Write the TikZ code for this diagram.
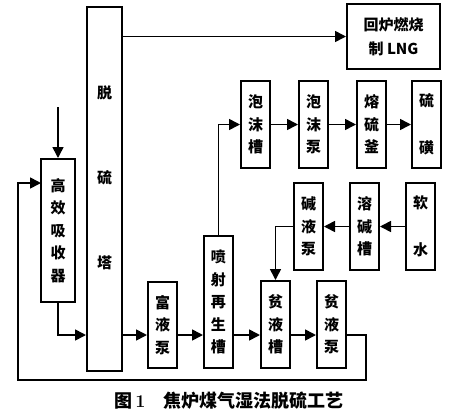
\documentclass[tikz,border=0pt]{standalone}
\usepackage{fontspec}
\newfontfamily\cjk{Noto Sans CJK SC}
\usetikzlibrary{positioning,arrows.meta}

\tikzset{
  box/.style={draw, line width=2pt, minimum width=29pt, minimum height=87pt,
    inner sep=0pt, align=center, font=\cjk\bfseries\fontsize{15}{22.5}\selectfont},
  box2/.style={box, font=\cjk\bfseries\fontsize{15}{47}\selectfont},
  flow/.style={line width=1.6pt, -{Triangle[length=11pt,width=11pt]}},
}

\begin{document}
\begin{tikzpicture}[x=1pt,y=-1pt]
    \useasboundingbox (0,0) rectangle (451,416);
    % desulfurisation tower
    \node[box, minimum width=35pt, minimum height=364pt] (ta) at (104.5,189) {};
    \node[font=\cjk\bfseries\fontsize{15}{85}\selectfont, align=center] (tatxt) at ([yshift=11pt]ta.center) {脱\\硫\\塔};
    % absorber and its gas inlet
    \node[box, minimum width=34pt, minimum height=143pt] (gx) at (58,230.5) {高\\效\\吸\\收\\器};
    \coordinate (gin) at (58,107);
    \coordinate (gxin) at (41,183);
    % clean gas out
    \node[box, minimum width=93pt, minimum height=65pt,
          font=\cjk\bfseries\fontsize{15}{24}\selectfont] (hl) at (393.5,36.5) {回炉燃烧\\制 LNG};
    % liquid level of the bottom row
    \coordinate (lvl) at (0,335);
    \node[box, minimum height=132pt, anchor=south] (ps) at (218.5,369) {喷\\射\\再\\生\\槽};
    \node[box, minimum height=86pt, anchor=south east] (fyb) at ([xshift=-25pt]ps.south west) {富\\液\\泵};
    \node[box, anchor=south west] (pyc) at ([xshift=26pt]ps.south east) {贫\\液\\槽};
    \node[box, right=25pt of pyc] (pyb) {贫\\液\\泵};
    % foam / sulfur row
    \node[box] (pmc) at (255.5,124.5) {泡\\沫\\槽};
    \node[box, right=27pt of pmc] (pmb) {泡\\沫\\泵};
    \node[box, right=27pt of pmb] (rlf) {熔\\硫\\釜};
    \node[box2, right=24pt of rlf] (lh) {硫\\磺};
    % alkali make-up row
    \node[box2] (rs) at (420.5,226.5) {软\\水};
    \node[box, left=25pt of rs] (rjc) {溶\\碱\\槽};
    \node[box, left=25pt of rjc] (jyb) {碱\\液\\泵};
    % return line corners
    \coordinate (rb) at (366,380);
    \coordinate (lb) at (18,380);

    \draw[flow] (ta.east |- hl.west) -- (hl.west);
    \draw[flow] (gin) -- (gx.north);
    \draw[flow] (gx.south) |- (ta.west |- lvl);
    \draw[flow] (ta.east |- lvl) -- (fyb.west |- lvl);
    \draw[flow] (fyb.east |- lvl) -- (ps.west |- lvl);
    \draw[flow] (ps.east |- lvl) -- (pyc.west |- lvl);
    \draw[flow] (pyc.east |- lvl) -- (pyb.west |- lvl);
    \draw[flow] (ps.north) |- (pmc.west);
    \draw[flow] (pmc) -- (pmb);
    \draw[flow] (pmb) -- (rlf);
    \draw[flow] (rlf) -- (lh);
    \draw[flow] (rs) -- (rjc);
    \draw[flow] (rjc) -- (jyb);
    \draw[flow] (jyb.west) -| (pyc.north);
    \draw[flow] (pyb.east |- lvl) -| (rb) -- (lb) |- (gxin);

    % caption
    \node[font=\cjk\bfseries\fontsize{18}{18}\selectfont] (cap) at (229,401) {图\,{\rmfamily\bfseries 1}\quad 焦炉煤气湿法脱硫工艺};
\end{tikzpicture}
\end{document}
